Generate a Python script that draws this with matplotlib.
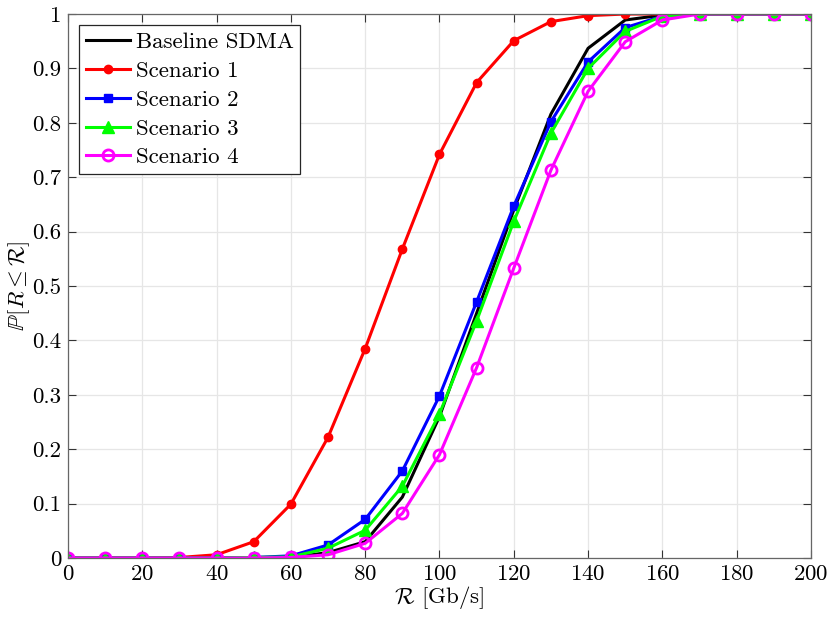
import matplotlib
matplotlib.use("Agg")
import matplotlib.pyplot as plt
import numpy as np

plt.rcParams['font.family'] = 'serif'
plt.rcParams['font.serif'] = ['cmr10']
plt.rcParams['mathtext.fontset'] = 'cm'
plt.rcParams['axes.formatter.use_mathtext'] = True

# rate axis [Gb/s]
rate = np.arange(0, 201, 10)

baseline = [0, 0, 0, 0, 0, 0.001, 0.001, 0.01, 0.03, 0.112, 0.26, 0.45, 0.64,
            0.816, 0.937, 0.989, 0.998, 1, 1, 1, 1]
scen1 = [0, 0, 0, 0.001, 0.006, 0.03, 0.099, 0.222, 0.385, 0.568, 0.742, 0.874,
         0.951, 0.986, 0.997, 1.0, 1, 1, 1, 1, 1]
scen2 = [0, 0, 0, 0, 0, 0.001, 0.004, 0.024, 0.071, 0.16, 0.298, 0.471, 0.647,
         0.802, 0.912, 0.975, 0.996, 1, 1, 1, 1]
scen3 = [0, 0, 0, 0, 0, 0.001, 0.002, 0.018, 0.051, 0.132, 0.265, 0.436, 0.619,
         0.781, 0.9, 0.968, 0.996, 1, 1, 1, 1]
scen4 = [0, 0, 0, 0, 0, 0, 0.001, 0.006, 0.027, 0.082, 0.19, 0.35, 0.533,
         0.713, 0.858, 0.949, 0.989, 1, 1, 1, 1]

fig = plt.figure(figsize=(8.3, 6.23), dpi=100)
ax = fig.add_axes([0.0819, 0.1043, 0.8952, 0.8732])

lw = 2.2
ax.plot(rate, baseline, color='k', lw=lw, label='Baseline SDMA')
ax.plot(rate, scen1, color='r', lw=lw, marker='o', ms=6, label='Scenario 1')
ax.plot(rate, scen2, color='b', lw=lw, marker='s', ms=6, label='Scenario 2')
ax.plot(rate, scen3, color=(0, 1, 0), lw=lw, marker='^', ms=8.5, label='Scenario 3')
ax.plot(rate, scen4, color=(1, 0, 1), lw=lw, marker='o', ms=8, mfc='none', mew=2,
        label='Scenario 4')

ax.set_xlim(0, 200)
ax.set_ylim(0, 1)
ax.set_xticks(np.arange(0, 201, 20))
ax.set_yticks(np.arange(0, 1.01, 0.1))
ax.set_yticklabels(['0', '0.1', '0.2', '0.3', '0.4', '0.5', '0.6', '0.7', '0.8', '0.9', '1'])
ax.grid(True, color=(0.9, 0.9, 0.9), lw=0.9)
ax.set_axisbelow(True)
for s in ax.spines.values():
    s.set_color((0.4, 0.4, 0.4))
    s.set_linewidth(0.9)
ax.tick_params(direction='in', top=True, right=True, labelsize=16.5, length=6,
               color=(0.2, 0.2, 0.2), pad=5)

ax.set_xlabel(r'$\mathcal{R}$ [Gb/s]', fontsize=16.5, labelpad=0)
ax.set_ylabel(r'$\mathbb{P}[R \leq \mathcal{R}]$', fontsize=16.5, labelpad=0)

leg = ax.legend(loc='upper left', fontsize=16.5, fancybox=False, framealpha=1,
                edgecolor=(0.15, 0.15, 0.15), handlelength=1.9, borderaxespad=0.5,
                labelspacing=0.38, handletextpad=0.25, borderpad=0.3)
leg.get_frame().set_linewidth(0.9)

plt.savefig('out.png', dpi=100)
